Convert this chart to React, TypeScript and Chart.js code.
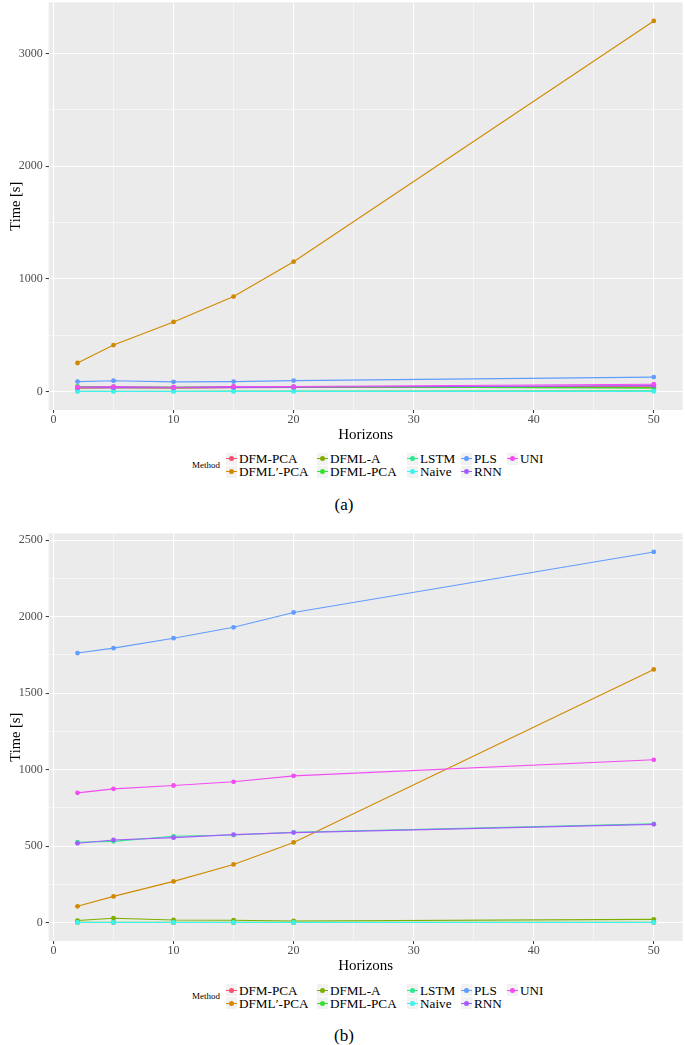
import React, { useEffect, useRef } from 'react';
import { Chart, registerables } from 'chart.js';

Chart.register(...registerables);

const FONT = '"Liberation Serif", "Times New Roman", "DejaVu Serif", serif';

// categories
const HORIZONS = [2, 5, 10, 15, 20, 50];
const METHODS = ['DFM-PCA', 'DFML\u2032-PCA', 'DFML-A', 'DFML-PCA', 'LSTM', 'Naive', 'PLS', 'RNN', 'UNI'];
const COLORS = ['#F8506E', '#D18A00', '#7CAE00', '#35E035', '#2EE88F', '#3EF2EE', '#619CFF', '#A35CFF', '#F24CF2'];

// panel (a) values, seconds
const A_DFM_PCA = [31, 33, 31, 35, 36, 48];
const A_DFML_PRIME_PCA = [253, 412, 618, 843, 1152, 3289];
const A_DFML_A = [32, 34, 32, 36, 37, 36];
const A_DFML_PCA = [45, 44, 39, 44, 43, 30];
const A_LSTM = [3, 3, 3, 4, 4, 6];
const A_NAIVE = [0.5, 0.5, 0.5, 0.5, 0.5, 0.6];
const A_PLS = [88, 96, 86, 88, 97, 128];
const A_RNN = [33, 35, 33, 37, 38, 52];
const A_UNI = [39, 44, 38, 45, 44, 65];

// panel (b) values, seconds
const B_DFM_PCA = [0.5, 0.5, 0.5, 0.5, 0.5, 0.6];
const B_DFML_PRIME_PCA = [106, 171, 269, 380, 524, 1655];
const B_DFML_A = [13, 28, 17, 15, 10, 21];
const B_DFML_PCA = [1, 1.5, 1, 1, 1, 1.5];
const B_LSTM = [525, 531, 564, 572, 590, 645];
const B_NAIVE = [0.5, 0.5, 0.5, 0.5, 0.5, 0.6];
const B_PLS = [1762, 1794, 1859, 1930, 2027, 2423];
const B_RNN = [518, 540, 555, 575, 588, 642];
const B_UNI = [848, 874, 896, 920, 959, 1064];

// tick labels
const X_MAJOR = [0, 10, 20, 30, 40, 50];
const X_MINOR = [5, 15, 25, 35, 45];
const A_Y_MAJOR = [0, 1000, 2000, 3000];
const A_Y_MINOR = [500, 1500, 2500];
const B_Y_MAJOR = [0, 500, 1000, 1500, 2000, 2500];
const B_Y_MINOR = [250, 750, 1250, 1750, 2250];

const PANEL_A = [A_DFM_PCA, A_DFML_PRIME_PCA, A_DFML_A, A_DFML_PCA, A_LSTM, A_NAIVE, A_PLS, A_RNN, A_UNI];
const PANEL_B = [B_DFM_PCA, B_DFML_PRIME_PCA, B_DFML_A, B_DFML_PCA, B_LSTM, B_NAIVE, B_PLS, B_RNN, B_UNI];

function expanded(lo: number, hi: number): [number, number] {
  const e = (hi - lo) * 0.05;
  return [lo - e, hi + e];
}

const panelBg = {
  id: 'panelBg',
  beforeDraw(chart: any) {
    const { ctx, chartArea } = chart;
    ctx.save();
    ctx.fillStyle = '#EBEBEB';
    ctx.fillRect(chartArea.left, chartArea.top, chartArea.width, chartArea.height);
    ctx.restore();
  },
};

function Panel({ values, yMajor, yMinor, top }: { values: number[][]; yMajor: number[]; yMinor: number[]; top: number }) {
  const ref = useRef<HTMLCanvasElement>(null);
  useEffect(() => {
    const all = values.flat();
    const [yMin, yMax] = expanded(Math.min(...all), Math.max(...all));
    const [xMin, xMax] = expanded(Math.min(...HORIZONS), Math.max(...HORIZONS));
    const isMajor = (list: number[]) => (c: any) => c.tick && list.includes(c.tick.value);
    const chart = new Chart(ref.current as HTMLCanvasElement, {
      type: 'line',
      data: {
        datasets: METHODS.map((m, i) => ({
          label: m,
          order: -i,
          data: HORIZONS.map((h, j) => ({ x: h, y: values[i][j] })),
          borderColor: COLORS[i],
          backgroundColor: COLORS[i],
          borderWidth: 1.1,
          pointRadius: 2.4,
          pointBorderWidth: 0,
          pointHoverRadius: 2.4,
          tension: 0,
          fill: false,
        })),
      },
      options: {
        animation: false,
        responsive: false,
        events: [],
        layout: { padding: { left: 0, right: 1, top: 0, bottom: 0 } },
        plugins: { legend: { display: false }, tooltip: { enabled: false } },
        scales: {
          x: {
            type: 'linear',
            min: xMin,
            max: xMax,
            afterBuildTicks: (s: any) => {
              s.ticks = [...X_MAJOR, ...X_MINOR].sort((a, b) => a - b).map((v) => ({ value: v }));
            },
            afterFit: (s: any) => {
              s.height = 34;
              s.paddingLeft = 0;
              s.paddingRight = 0;
            },
            ticks: {
              autoSkip: false,
              maxRotation: 0,
              padding: 0,
              color: '#4D4D4D',
              font: { family: FONT, size: 12 },
              callback: (v: any) => (X_MAJOR.includes(Number(v)) ? String(v) : ''),
            },
            grid: {
              color: '#FFFFFF',
              lineWidth: (c: any) => (isMajor(X_MAJOR)(c) ? 1.1 : 0.55),
              tickColor: (c: any) => (isMajor(X_MAJOR)(c) ? '#333333' : 'rgba(0,0,0,0)'),
              tickWidth: 1,
              tickLength: 3,
              drawTicks: true,
            },
            border: { display: false },
            title: { display: true, text: 'Horizons', color: '#000000', font: { family: FONT, size: 15 }, padding: { top: 0, bottom: 0 } },
          },
          y: {
            type: 'linear',
            min: yMin,
            max: yMax,
            afterBuildTicks: (s: any) => {
              s.ticks = [...yMajor, ...yMinor].sort((a, b) => a - b).map((v) => ({ value: v }));
            },
            afterFit: (s: any) => {
              s.width = 48.7;
              s.paddingTop = 0;
              s.paddingBottom = 0;
            },
            ticks: {
              autoSkip: false,
              padding: 3,
              color: '#4D4D4D',
              font: { family: FONT, size: 12 },
              callback: (v: any) => (yMajor.includes(Number(v)) ? String(v) : ''),
            },
            grid: {
              color: '#FFFFFF',
              lineWidth: (c: any) => (isMajor(yMajor)(c) ? 1.1 : 0.55),
              tickColor: (c: any) => (isMajor(yMajor)(c) ? '#333333' : 'rgba(0,0,0,0)'),
              tickWidth: 1,
              tickLength: 3,
              drawTicks: true,
            },
            border: { display: false },
            title: { display: true, text: 'Time [s]', color: '#000000', font: { family: FONT, size: 14.5 }, padding: { top: 7.5, bottom: 0 } },
          },
        },
      } as any,
      plugins: [panelBg],
    });
    return () => chart.destroy();
  }, [values, yMajor, yMinor]);
  return (
    <canvas
      ref={ref}
      width={685}
      height={444}
      style={{ position: 'absolute', left: 0, top, width: 685, height: 444, display: 'block' }}
    />
  );
}

const LEGEND_COL_LEFT = [226, 317, 407, 461, 507];

function Legend({ top }: { top: number }) {
  return (
    <div style={{ position: 'absolute', left: 0, top, width: 685, height: 28, fontFamily: FONT, color: '#000' }}>
      <div style={{ position: 'absolute', left: 192, top: 7.5, fontSize: 9, lineHeight: '11px' }}>Method</div>
      {METHODS.map((m, i) => {
        const col = Math.floor(i / 2);
        const row = i % 2;
        return (
          <div
            key={m}
            style={{ position: 'absolute', left: LEGEND_COL_LEFT[col], top: row * 13, height: 13, display: 'flex', alignItems: 'center', whiteSpace: 'nowrap' }}
          >
            <span style={{ position: 'relative', display: 'inline-block', width: 11, height: 12, background: '#F2F2F2' }}>
              <span style={{ position: 'absolute', left: 0, right: 0, top: 5.5, height: 1, background: COLORS[i] }} />
              <span style={{ position: 'absolute', left: 3, top: 3.5, width: 5, height: 5, borderRadius: '50%', background: COLORS[i] }} />
            </span>
            <span style={{ marginLeft: 2, fontSize: 13.2, lineHeight: '13px' }}>{m}</span>
          </div>
        );
      })}
    </div>
  );
}

function Caption({ top, text }: { top: number; text: string }) {
  return (
    <div style={{ position: 'absolute', left: 0, top, width: 688, textAlign: 'center', fontFamily: FONT, fontSize: 17, lineHeight: '20px', color: '#000' }}>
      {text}
    </div>
  );
}

export default function App() {
  return (
    <div style={{ position: 'absolute', left: 0, top: 0, width: 685, height: 1045, overflow: 'hidden', background: '#FFFFFF' }}>
      <Panel values={PANEL_A} yMajor={A_Y_MAJOR} yMinor={A_Y_MINOR} top={0} />
      <Legend top={452} />
      <Caption top={495} text="(a)" />
      <Panel values={PANEL_B} yMajor={B_Y_MAJOR} yMinor={B_Y_MINOR} top={531} />
      <Legend top={983.5} />
      <Caption top={1026} text="(b)" />
    </div>
  );
}
